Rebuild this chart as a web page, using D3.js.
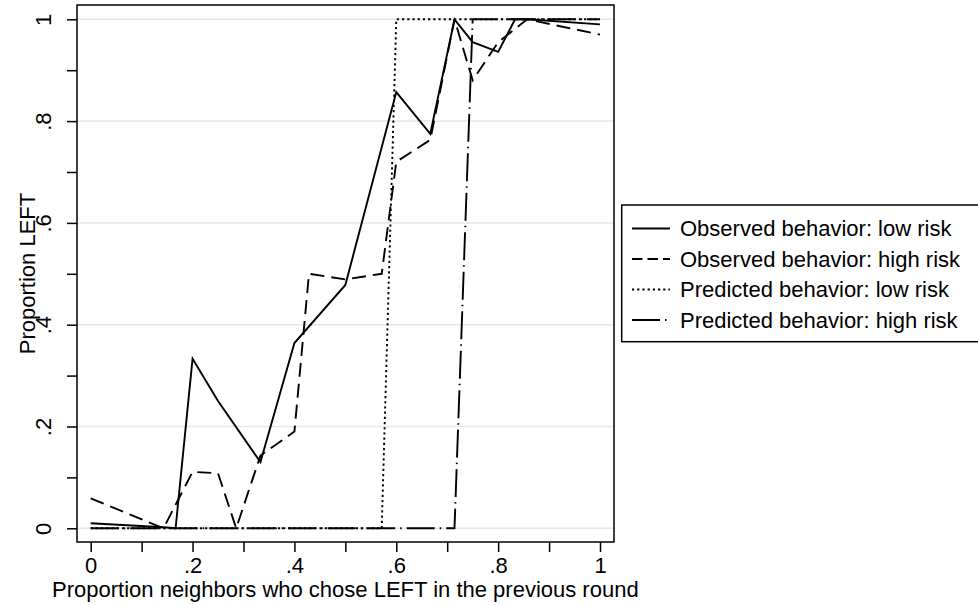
<!DOCTYPE html>
<html>
<head>
<meta charset="utf-8">
<script src="https://cdn.jsdelivr.net/npm/d3@7"></script>
<style>
  html, body { margin: 0; padding: 0; background: #fff; }
  svg { display: block; font-family: "Liberation Sans", Arial, Helvetica, sans-serif; }
</style>
</head>
<body>
<svg id="chart" width="978" height="605"></svg>
<script>
// Share of neighbours choosing LEFT in the previous round (x) vs. share choosing LEFT (y)
const obsLowX  = [0, 0.1429, 0.1667, 0.2, 0.25, 0.3333, 0.4, 0.5, 0.6, 0.6667, 0.7143, 0.75, 0.8, 0.8333, 0.8571, 1];
const obsLowY  = [0.01, 0.002, 0, 0.333, 0.25, 0.13, 0.364, 0.478, 0.857, 0.775, 1, 0.955, 0.936, 1, 1, 0.99];

const obsHighX = [0, 0.1429, 0.2, 0.25, 0.2857, 0.3333, 0.4, 0.4286, 0.5, 0.5714, 0.6, 0.6667, 0.7143, 0.75, 0.8, 0.8571, 1];
const obsHighY = [0.059, 0, 0.111, 0.108, 0, 0.143, 0.19, 0.5, 0.489, 0.5, 0.72, 0.763, 1, 0.88, 0.955, 1, 0.97];

const predLowX  = [0, 0.5714, 0.6, 1];
const predLowY  = [0, 0, 1, 1];

const predHighX = [0, 0.7143, 0.75, 1];
const predHighY = [0, 0, 1, 1];

const seriesNames = [
  "Observed behavior: low risk",
  "Observed behavior: high risk",
  "Predicted behavior: low risk",
  "Predicted behavior: high risk"
];

const xMajorTicks = [0, 0.2, 0.4, 0.6, 0.8, 1];
const xMinorTicks = [0.1, 0.3, 0.5, 0.7, 0.9];
const yMajorTicks = [0, 0.2, 0.4, 0.6, 0.8, 1];
const yMinorTicks = [0.1, 0.3, 0.5, 0.7, 0.9];

const xTitle = "Proportion neighbors who chose LEFT in the previous round";
const yTitle = "Proportion LEFT";

// ---- layout ----
const svg = d3.select("#chart");
const frame = { left: 77, right: 614, top: 5, bottom: 542 };
const x = d3.scaleLinear().domain([0, 1]).range([90.7, 600]);
const y = d3.scaleLinear().domain([0, 1]).range([528.3, 19.3]);
const fontSize = 22;
const tickLen = 10;

const fmt = v => v === 0 ? "0" : v === 1 ? "1" : d3.format(".1f")(v).replace(/^0/, "");

// horizontal grid lines
svg.append("g").selectAll("line").data(yMajorTicks).join("line")
  .attr("x1", frame.left).attr("x2", frame.right)
  .attr("y1", d => y(d)).attr("y2", d => y(d))
  .attr("stroke", "#e6e6e6").attr("stroke-width", 1.5);

// series line patterns: solid, dash, dot, dash-dot
const styles = [
  { dash: null },
  { dash: "14,7" },
  { dash: "2.2,3" },
  { dash: "28,5,1.5,5" }
];
const series = [
  d3.zip(obsLowX, obsLowY),
  d3.zip(obsHighX, obsHighY),
  d3.zip(predLowX, predLowY),
  d3.zip(predHighX, predHighY)
];
const line = d3.line().x(d => x(d[0])).y(d => y(d[1]));

svg.append("g").selectAll("path").data(series).join("path")
  .attr("d", line)
  .attr("fill", "none")
  .attr("stroke", "#000")
  .attr("stroke-width", 1.9)
  .attr("stroke-linejoin", "miter")
  .attr("stroke-dasharray", (d, i) => styles[i].dash);

// plot frame
svg.append("rect")
  .attr("x", frame.left).attr("y", frame.top)
  .attr("width", frame.right - frame.left).attr("height", frame.bottom - frame.top)
  .attr("fill", "none").attr("stroke", "#000").attr("stroke-width", 1.5);

// x axis
const xAxis = d3.axisBottom(x).tickValues(xMajorTicks).tickFormat(fmt)
  .tickSize(tickLen).tickPadding(5);
const gx = svg.append("g").attr("transform", `translate(0,${frame.bottom})`).call(xAxis);
gx.select(".domain").remove();
gx.selectAll(".tick line").attr("stroke-width", 1.5);
gx.selectAll(".tick text").attr("font-size", fontSize).attr("font-family", null)
  .attr("fill", "#000").attr("dy", null).attr("y", 30.5);

const xMinor = d3.axisBottom(x).tickValues(xMinorTicks).tickFormat("").tickSize(tickLen);
const gxm = svg.append("g").attr("transform", `translate(0,${frame.bottom})`).call(xMinor);
gxm.select(".domain").remove();
gxm.selectAll(".tick line").attr("stroke-width", 1.5);

// y axis
const yAxis = d3.axisLeft(y).tickValues(yMajorTicks).tickFormat(fmt).tickSize(tickLen);
const gy = svg.append("g").attr("transform", `translate(${frame.left},0)`).call(yAxis);
gy.select(".domain").remove();
gy.selectAll(".tick line").attr("stroke-width", 1.5);
gy.selectAll(".tick text")
  .attr("font-size", fontSize).attr("font-family", null).attr("fill", "#000")
  .attr("x", null).attr("dy", null)
  .attr("text-anchor", "middle")
  .attr("transform", "translate(-26,0) rotate(-90)");

const yMinor = d3.axisLeft(y).tickValues(yMinorTicks).tickFormat("").tickSize(tickLen);
const gym = svg.append("g").attr("transform", `translate(${frame.left},0)`).call(yMinor);
gym.select(".domain").remove();
gym.selectAll(".tick line").attr("stroke-width", 1.5);

// axis titles
svg.append("text")
  .attr("x", (x(0) + x(1)) / 2).attr("y", 597)
  .attr("text-anchor", "middle").attr("font-size", fontSize)
  .text(xTitle);

svg.append("text")
  .attr("transform", `translate(35,${(frame.top + frame.bottom) / 2}) rotate(-90)`)
  .attr("text-anchor", "middle").attr("font-size", fontSize)
  .text(yTitle);

// legend
const legend = svg.append("g");
legend.append("rect")
  .attr("x", 621.7).attr("y", 205).attr("width", 380).attr("height", 136.7)
  .attr("fill", "#fff").attr("stroke", "#000").attr("stroke-width", 1.5);

const rowY = [228.5, 259, 289.5, 320];
const rows = legend.selectAll("g.row").data(seriesNames).join("g")
  .attr("class", "row")
  .attr("transform", (d, i) => `translate(0,${rowY[i]})`);
rows.append("line")
  .attr("x1", 632).attr("x2", 670).attr("y1", 0).attr("y2", 0)
  .attr("stroke", "#000").attr("stroke-width", 1.9)
  .attr("stroke-dasharray", (d, i) => i === 1 ? "10.5,5" : styles[i].dash);
rows.append("text")
  .attr("x", 680).attr("y", 0).attr("dy", "0.35em")
  .attr("font-size", fontSize)
  .text(d => d);
</script>
</body>
</html>
